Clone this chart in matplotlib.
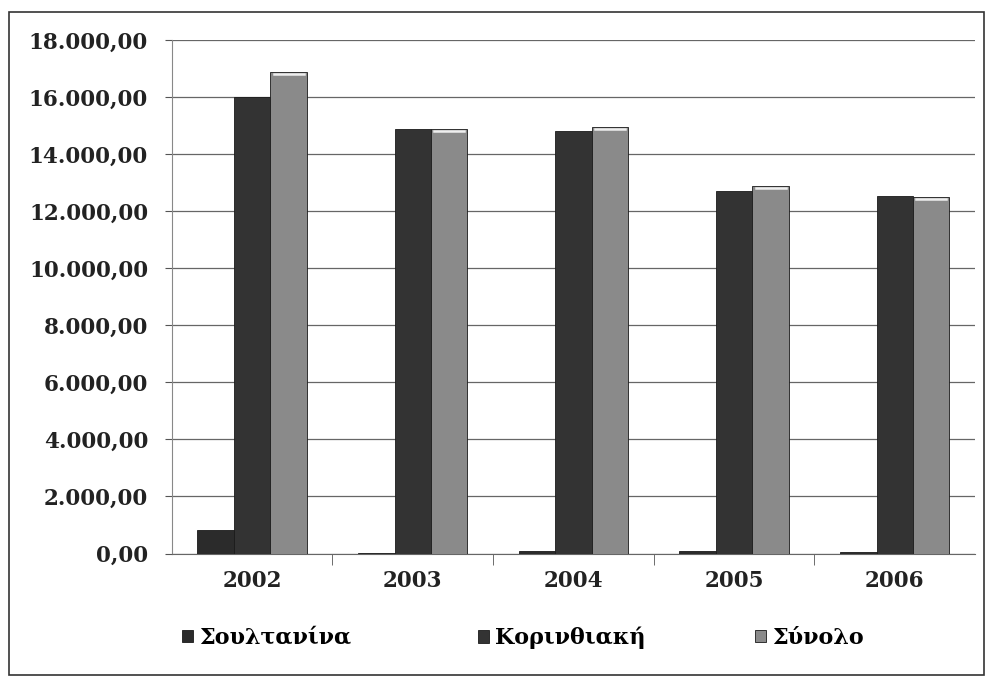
import numpy as np
import matplotlib.pyplot as plt
from matplotlib.patches import Rectangle

# Data
years = ['2002', '2003', '2004', '2005', '2006']
soultanina = [830, 30, 100, 100, 40]
korinthiaki = [16000, 14870, 14800, 12700, 12520]
synolo = [16870, 14900, 14940, 12870, 12490]

series_names = ['Σουλτανίνα', 'Κορινθιακή', 'Σύνολο']
series_colors = ['#2b2b2b', '#333333', '#8a8a8a']
legend_x = [0.183, 0.481, 0.760]  # left edge of each legend entry (figure fraction)

plt.rcParams['font.family'] = ['DejaVu Serif']
plt.rcParams['font.weight'] = 'bold'

fig = plt.figure(figsize=(9.93, 6.8), dpi=100)
ax = fig.add_axes([0.173, 0.186, 0.809, 0.755])

x = np.arange(len(years))
w = 0.227
handles = []
for i, (vals, name, col) in enumerate(zip([soultanina, korinthiaki, synolo], series_names, series_colors)):
    b = ax.bar(x + (i - 1) * w, vals, width=w, color=col, edgecolor='#1a1a1a',
               linewidth=0.6, label=name, zorder=3)
    handles.append(b)

# light top edge on the grey bars (3D look)
for rect in handles[2]:
    ax.plot([rect.get_x() + 0.02, rect.get_x() + rect.get_width() - 0.02],
            [rect.get_height() - 70] * 2, color='#eeeeee', lw=1.8, zorder=4)

ax.set_ylim(0, 18000)
ax.set_xlim(-0.5, len(years) - 0.5)
yt = np.arange(0, 18001, 2000)
ax.set_yticks(yt)
ax.set_yticklabels([f'{v:,.2f}'.replace(',', 'X').replace('.', ',').replace('X', '.') for v in yt],
                   fontsize=15.5, fontweight='bold', color='#222222')
ax.set_xticks(x)
ax.set_xticklabels(years, fontsize=15.5, fontweight='bold', color='#222222')
ax.set_xticks(np.arange(0.5, len(years) - 0.5, 1), minor=True)
ax.tick_params(axis='x', which='major', length=0, pad=12)
ax.tick_params(axis='x', which='minor', length=8, color='#555555')
ax.tick_params(axis='y', length=5, color='#555555', pad=12)

ax.grid(axis='y', color='#666666', linewidth=0.9, zorder=0)
for s in ['top', 'right']:
    ax.spines[s].set_visible(False)
ax.spines['left'].set_color('#888888')
ax.spines['bottom'].set_color('#666666')

for h, name, lx in zip(handles, series_names, legend_x):
    fig.legend([h], [name], loc='center left', bbox_to_anchor=(lx, 0.062),
               frameon=False, handlelength=0.5, handleheight=0.5,
               handletextpad=0.3, borderpad=0, borderaxespad=0,
               prop={'size': 16, 'weight': 'bold'})

# outer frame
fig.patches.append(Rectangle((0.009, 0.008), 0.982, 0.975, transform=fig.transFigure,
                             fill=False, edgecolor='#333333', linewidth=1.2))

fig.savefig('out.png', dpi=100)
